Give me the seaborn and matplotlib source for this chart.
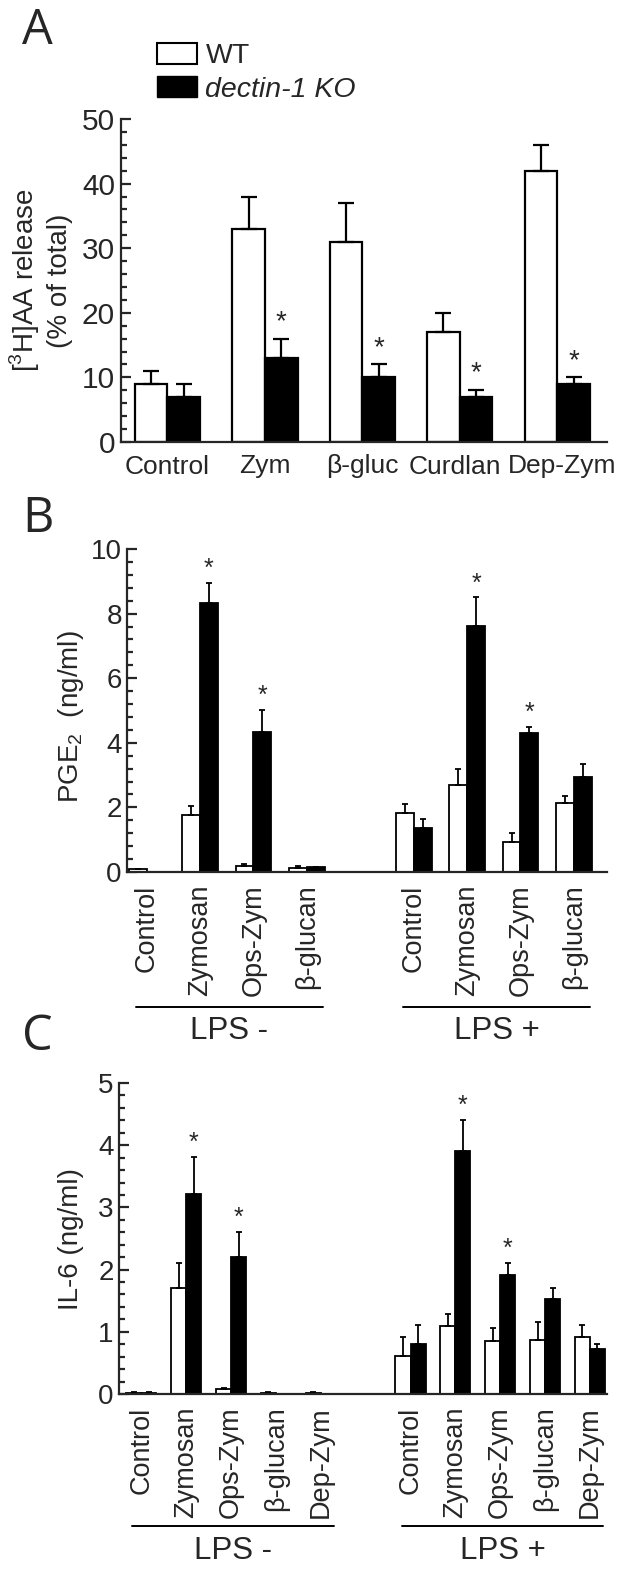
import numpy as np
import pandas as pd
import matplotlib
matplotlib.use("Agg")
import matplotlib.pyplot as plt
import matplotlib.transforms as mtransforms
import seaborn as sns
from matplotlib.patches import Patch
from matplotlib.ticker import MultipleLocator

# ---- data ----
# A: [3H]AA release
a_labels = ["Control", "Zym", "β-gluc", "Curdlan", "Dep-Zym"]
a_wt = [9, 33, 31, 17, 42]
a_wt_err = [2, 5, 6, 3, 4]
a_ko = [7, 13, 10, 7, 9]
a_ko_err = [2, 3, 2, 1, 1]
a_sig = [False, True, True, True, True]

# B: PGE2
b_labels = ["Control", "Zymosan", "Ops-Zym", "β-glucan"]
b_wt_minus = [0.08, 1.76, 0.18, 0.12]
b_wt_minus_err = [0.02, 0.29, 0.08, 0.07]
b_ko_minus = [0.01, 8.34, 4.33, 0.14]
b_ko_minus_err = [0.0, 0.60, 0.68, 0.03]
b_wt_plus = [1.83, 2.69, 0.93, 2.15]
b_wt_plus_err = [0.29, 0.51, 0.29, 0.20]
b_ko_plus = [1.36, 7.61, 4.30, 2.94]
b_ko_plus_err = [0.27, 0.89, 0.19, 0.40]
b_sig = [False, True, True, False]

# C: IL-6
c_labels = ["Control", "Zymosan", "Ops-Zym", "β-glucan", "Dep-Zym"]
c_wt_minus = [0.02, 1.71, 0.08, 0.02, 0.02]
c_wt_minus_err = [0.005, 0.40, 0.02, 0.005, 0.005]
c_ko_minus = [0.02, 3.21, 2.21, 0.005, 0.005]
c_ko_minus_err = [0.005, 0.60, 0.40, 0.0, 0.0]
c_wt_plus = [0.61, 1.09, 0.86, 0.87, 0.91]
c_wt_plus_err = [0.31, 0.19, 0.20, 0.29, 0.20]
c_ko_plus = [0.81, 3.91, 1.91, 1.52, 0.72]
c_ko_plus_err = [0.30, 0.50, 0.20, 0.19, 0.08]
c_sig = [False, True, True, False, False]

sns.set_theme(style="ticks")
plt.rcParams["font.family"] = ["Liberation Sans", "DejaVu Sans"]
plt.rcParams["mathtext.fontset"] = "custom"
plt.rcParams["mathtext.rm"] = "Liberation Sans"

GENO = ["WT", "dectin-1 KO"]
PAL = {"WT": "white", "dectin-1 KO": "black"}


def bar_panel(ax, keys, order, wt, wt_err, ko, ko_err, sig, lw, capsize,
              star_size, star_off):
    n = len(keys)
    df = pd.DataFrame({
        "cond": keys * 2,
        "genotype": ["WT"] * n + ["dectin-1 KO"] * n,
        "value": wt + ko,
        "err": wt_err + ko_err,
        "sig": [False] * n + sig,
    })
    sns.barplot(data=df, x="cond", y="value", hue="genotype", order=order,
                hue_order=GENO, palette=PAL, saturation=1, width=0.67, gap=0,
                edgecolor="black", linewidth=lw, errorbar=None, legend=False,
                ax=ax)
    # error bars (upward only) + asterisks, placed on the seaborn bars
    for p in list(ax.patches):
        xc = p.get_x() + p.get_width() / 2
        i = int(round(xc))
        g = "WT" if xc < i else "dectin-1 KO"
        row = df[(df["cond"] == order[i]) & (df["genotype"] == g)]
        if row.empty:
            continue
        h = p.get_height()
        e = float(row["err"].iloc[0])
        if e > 0:
            ax.errorbar(xc, h, yerr=[[0], [e]], fmt="none", ecolor="black",
                        elinewidth=lw, capsize=capsize, capthick=lw, zorder=1)
        if bool(row["sig"].iloc[0]):
            ax.annotate("*", (xc, h + e), xytext=(0, star_off),
                        textcoords="offset points", ha="center", va="center",
                        fontsize=star_size)


def style_axis(ax, ymax, major, minor, tick_fs, lw):
    ax.set_ylim(0, ymax)
    ax.yaxis.set_major_locator(MultipleLocator(major))
    ax.yaxis.set_minor_locator(MultipleLocator(minor))
    sns.despine(ax=ax)
    for s in ["left", "bottom"]:
        ax.spines[s].set_linewidth(lw)
    ax.tick_params(axis="y", which="major", direction="in", length=7,
                   width=lw, labelsize=tick_fs, pad=4)
    ax.tick_params(axis="y", which="minor", direction="in", length=4,
                   width=lw)
    ax.tick_params(axis="x", length=0, pad=9)
    ax.set_xlabel("")


fig = plt.figure(figsize=(6.21, 15.92), dpi=100)
W, H = 621, 1592
axA = fig.add_axes([120.6 / W, 1 - 442 / H, (607 - 120.6) / W, (442 - 119) / H])
axB = fig.add_axes([127.4 / W, 1 - 872 / H, (607 - 127.4) / W, (872 - 549) / H])
axC = fig.add_axes([119.4 / W, 1 - 1394 / H, (607 - 119.4) / W, (1394 - 1083) / H])

# ---- A ----
bar_panel(axA, a_labels, a_labels, a_wt, a_wt_err, a_ko, a_ko_err, a_sig,
          lw=1.6, capsize=5.5, star_size=20, star_off=12)
style_axis(axA, 50, 10, 2, 21.5, 1.6)
axA.set_xlim(-0.48, 4.51)
axA.set_xticks(range(len(a_labels)), a_labels, fontsize=19)
# the two crowded labels on the right sit a little apart in the original
for lab, dx in zip(axA.get_xticklabels(), [0, 0, 0, -5, 5]):
    lab.set_transform(lab.get_transform() +
                      mtransforms.ScaledTranslation(dx / 100, 0, fig.dpi_scale_trans))
axA.set_ylabel("[$^3$H]AA release\n(% of total)", fontsize=20,
               linespacing=1.25)
axA.yaxis.set_label_coords(-0.097, 0.5)
leg = fig.legend(handles=[Patch(facecolor="white", edgecolor="black", lw=1.5),
                          Patch(facecolor="black", edgecolor="black")],
                 labels=GENO, loc="upper left",
                 bbox_to_anchor=(157 / W, 1 - 43 / H), frameon=False,
                 fontsize=20.5, handlelength=1.4, handleheight=0.75,
                 handletextpad=0.3, labelspacing=0.25, borderpad=0,
                 borderaxespad=0)
leg.get_texts()[1].set_style("italic")


def split_panel(ax, labels, wtm, wtme, kom, kome, wtp, wtpe, kop, kope, sig,
                ymax, major, minor, xlim):
    keys_m = ["- " + l for l in labels]
    keys_p = ["+ " + l for l in labels]
    order = keys_m + ["gap"] + keys_p
    bar_panel(ax, keys_m + keys_p, order, wtm + wtp, wtme + wtpe,
              kom + kop, kome + kope, sig + sig, lw=1.3, capsize=2.5,
              star_size=18, star_off=10)
    style_axis(ax, ymax, major, minor, 20, 1.6)
    ax.set_xlim(*xlim)
    ax.set_xticks(range(len(order)), labels + [""] + labels, rotation=90,
                  fontsize=19.5)
    return len(labels)


# ---- B ----
nB = split_panel(axB, b_labels, b_wt_minus, b_wt_minus_err, b_ko_minus,
                 b_ko_minus_err, b_wt_plus, b_wt_plus_err, b_ko_plus,
                 b_ko_plus_err, b_sig, 10, 2, 0.4, (-0.36, 8.62))
axB.set_ylabel("PGE$_2$  (ng/ml)", fontsize=20)
axB.yaxis.set_label_coords(-0.086, 0.48)

# ---- C ----
nC = split_panel(axC, c_labels, c_wt_minus, c_wt_minus_err, c_ko_minus,
                 c_ko_minus_err, c_wt_plus, c_wt_plus_err, c_ko_plus,
                 c_ko_plus_err, c_sig, 5, 1, 0.2, (-0.49, 10.38))
axC.set_ylabel("IL-6 (ng/ml)", fontsize=20)
axC.yaxis.set_label_coords(-0.073, 0.5)

# LPS brackets under the rotated labels
for ax, n, yline, ytext in [(axB, nB, -0.418, -0.445), (axC, nC, -0.424, -0.455)]:
    tr = ax.get_xaxis_transform()
    for first, text in [(0, "LPS -"), (n + 1, "LPS +")]:
        x0, x1 = first - 0.2, first + n - 1 + 0.3
        ax.plot([x0, x1], [yline, yline], color="black", lw=1.4,
                transform=tr, clip_on=False)
        ax.text((x0 + x1) / 2, ytext, text, transform=tr, ha="center",
                va="top", fontsize=22.5)

# panel letters
for letter, y in [("A", 6), ("B", 495), ("C", 1012)]:
    fig.text(22 / W, 1 - y / H, letter, fontsize=35, family="Open Sans",
             ha="left", va="top")

fig.savefig("out.png", dpi=100)
